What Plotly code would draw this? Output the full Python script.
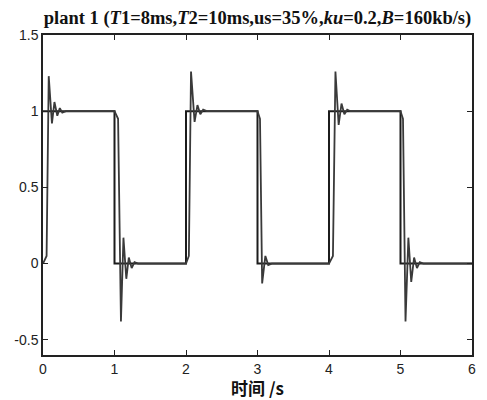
import plotly.graph_objects as go

# Reference square wave
ref_t = [0, 1, 1, 2, 2, 3, 3, 4, 4, 5, 5, 6]
ref_y = [1, 1, 0, 0, 1, 1, 0, 0, 1, 1, 0, 0]

# Response: one block per set-point change (step time, offsets after step, values)
step_times = [0, 1, 2, 3, 4, 5]
step_offsets = [
    [0.0, 0.05, 0.08, 0.125, 0.16, 0.20, 0.235, 0.27, 0.32, 0.97],
    [0.0, 0.05, 0.09, 0.125, 0.165, 0.20, 0.24, 0.28, 0.33, 0.98],
    [0.0, 0.04, 0.07, 0.12, 0.16, 0.20, 0.24, 0.29, 0.98],
    [0.0, 0.035, 0.065, 0.11, 0.15, 0.20, 0.98],
    [0.0, 0.055, 0.09, 0.135, 0.175, 0.215, 0.255, 0.30, 0.98],
    [0.0, 0.035, 0.07, 0.11, 0.15, 0.19, 0.23, 0.27, 0.32, 1.0],
]
step_values = [
    [0.0, 0.05, 1.23, 0.92, 1.06, 0.97, 1.02, 0.99, 1.0, 1.0],
    [1.0, 0.95, -0.38, 0.17, -0.10, 0.04, -0.03, 0.01, 0.0, 0.0],
    [0.0, 0.05, 1.26, 0.93, 1.04, 0.98, 1.01, 1.0, 1.0],
    [1.0, 0.95, -0.13, 0.05, -0.01, 0.0, 0.0],
    [0.0, 0.05, 1.26, 0.91, 1.05, 0.98, 1.01, 1.0, 1.0],
    [1.0, 0.95, -0.38, 0.17, -0.12, 0.04, -0.03, 0.01, 0.0, 0.0],
]

resp_t, resp_y = [], []
for T, offs, vals in zip(step_times, step_offsets, step_values):
    resp_t += [T + o for o in offs]
    resp_y += vals

y_ticks = [-0.5, 0, 0.5, 1, 1.5]
y_labels = ["-0.5", "0", "0.5", "1", "1.5"]
x_ticks = [0, 1, 2, 3, 4, 5, 6]
x_labels = ["0", "1", "2", "3", "4", "5", "6"]

fig = go.Figure()
fig.add_trace(go.Scatter(x=ref_t, y=ref_y, mode="lines",
                         line=dict(color="#1c1c1c", width=2), showlegend=False))
fig.add_trace(go.Scatter(x=resp_t, y=resp_y, mode="lines",
                         line=dict(color="#3a3a3a", width=1.8), showlegend=False))

tick_font = dict(family="Liberation Sans, Arial, sans-serif", size=14, color="#222")
fig.update_layout(
    width=479, height=392,
    margin=dict(l=35, r=15, t=27, b=45, autoexpand=False),
    paper_bgcolor="white", plot_bgcolor="white",
    title=dict(
        text="<b>plant 1 (<i>T</i>1=8ms,<i>T</i>2=10ms,us=35%,<i>ku</i>=0.2,<i>B</i>=160kb/s)</b>",
        font=dict(family="Liberation Serif, Times New Roman, serif", size=18.5, color="#111"),
        x=0.5, xref="paper", xanchor="center",
        y=1 - 10 / 392, yref="container", yanchor="middle",
    ),
)
fig.update_xaxes(range=[0, 6], tickvals=x_ticks, ticktext=x_labels,
                 ticks="inside", ticklen=5, tickcolor="#222", mirror="ticks",
                 showline=True, linecolor="#222", linewidth=1.5,
                 showgrid=False, zeroline=False, tickfont=tick_font,
                 title=dict(text="<b>时间 /s</b>", standoff=2,
                            font=dict(family="Noto Sans CJK SC", size=17, color="#111")))
fig.update_yaxes(range=[-0.6, 1.5], tickvals=y_ticks, ticktext=y_labels,
                 ticks="inside", ticklen=5, tickcolor="#222", mirror="ticks",
                 showline=True, linecolor="#222", linewidth=1.5,
                 showgrid=False, zeroline=False, tickfont=tick_font)

fig.write_html("out.html")
